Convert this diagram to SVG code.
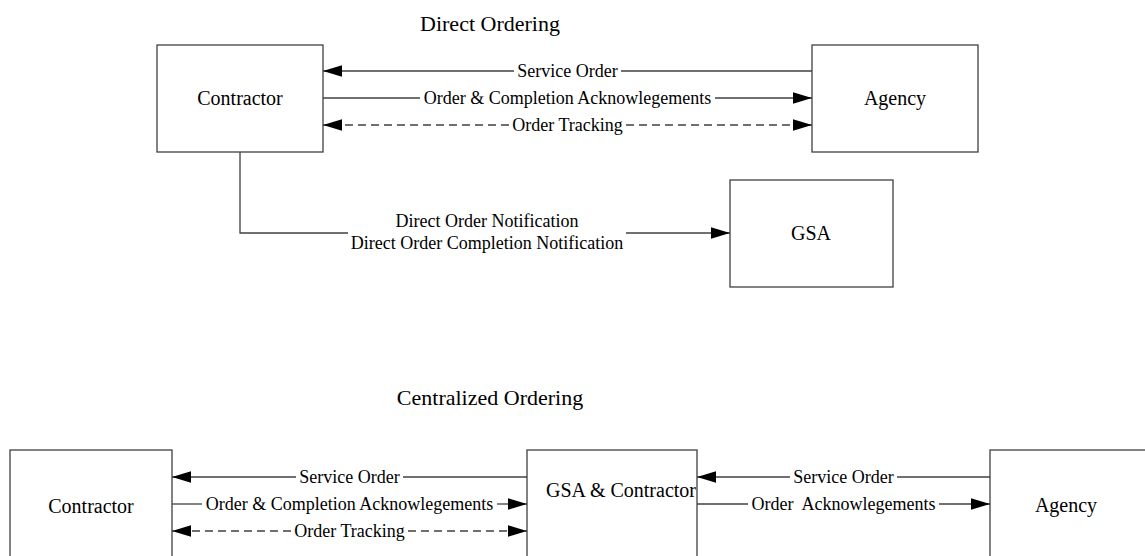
<svg xmlns="http://www.w3.org/2000/svg" width="1145" height="556" viewBox="0 0 1145 556">
<style>
.box{fill:#fff;stroke:#404040;stroke-width:1.3}
.ln{fill:none;stroke:#404040;stroke-width:1.3}
.dash{stroke-dasharray:8 5}
.lbl{font-family:"Liberation Serif","Times New Roman",serif;font-size:18px;fill:#000;text-anchor:middle}
.nt{font-family:"Liberation Serif","Times New Roman",serif;font-size:20px;fill:#000;text-anchor:middle}
.ttl{font-family:"Liberation Serif","Times New Roman",serif;font-size:22px;fill:#000;text-anchor:middle}
</style>
<defs>
<marker id="ah" markerUnits="userSpaceOnUse" markerWidth="19" markerHeight="12" refX="18" refY="5.5" orient="auto-start-reverse" viewBox="0 0 18 11">
<path d="M0,0 L18,5.5 L0,11 z" fill="#000"/>
</marker>
</defs>
<rect width="1145" height="556" fill="#fff"/>
<text class="ttl" x="490" y="31">Direct Ordering</text>
<text class="ttl" x="490" y="405">Centralized Ordering</text>

<g id="top-contractor"><rect class="box" x="157" y="45" width="166" height="107"/><text class="nt" x="240" y="105">Contractor</text></g>
<g id="top-agency"><rect class="box" x="812" y="45" width="166" height="107"/><text class="nt" x="895" y="105">Agency</text></g>
<g id="top-gsa"><rect class="box" x="730" y="180" width="163" height="107"/><text class="nt" x="811" y="240">GSA</text></g>

<g id="bot-contractor"><rect class="box" x="10" y="450" width="162" height="130"/><text class="nt" x="91" y="513">Contractor</text></g>
<g id="bot-gsa-contractor"><rect class="box" x="527" y="450" width="170" height="130"/><text class="nt" x="546" y="497" style="text-anchor:start">GSA &amp; Contractor</text></g>
<g id="bot-agency"><rect class="box" x="990" y="450" width="170" height="130"/><text class="nt" x="1066" y="512">Agency</text></g>

<g id="connectors">
<line class="ln" x1="812" y1="71" x2="621" y2="71"/>
<line class="ln" x1="514" y1="71" x2="323" y2="71" marker-end="url(#ah)"/>
<text class="lbl" x="567.5" y="77">Service Order</text>
<line class="ln" x1="323" y1="98" x2="420" y2="98"/>
<line class="ln" x1="715" y1="98" x2="812" y2="98" marker-end="url(#ah)"/>
<text class="lbl" x="567.5" y="104">Order &amp; Completion Acknowlegements</text>
<line class="ln dash" x1="509" y1="125" x2="323" y2="125" marker-end="url(#ah)"/>
<line class="ln dash" x1="626" y1="125" x2="812" y2="125" marker-end="url(#ah)"/>
<text class="lbl" x="567.5" y="131">Order Tracking</text>
<polyline class="ln" points="240,152 240,233 348,233"/>
<line class="ln" x1="626" y1="233" x2="730" y2="233" marker-end="url(#ah)"/>
<text class="lbl" x="487" y="227">Direct Order Notification</text>
<text class="lbl" x="487" y="249">Direct Order Completion Notification</text>
<line class="ln" x1="527" y1="477" x2="403" y2="477"/>
<line class="ln" x1="296" y1="477" x2="172" y2="477" marker-end="url(#ah)"/>
<text class="lbl" x="349.5" y="483">Service Order</text>
<line class="ln" x1="172" y1="504" x2="202" y2="504"/>
<line class="ln" x1="497" y1="504" x2="527" y2="504" marker-end="url(#ah)"/>
<text class="lbl" x="349.5" y="510">Order &amp; Completion Acknowlegements</text>
<line class="ln dash" x1="291" y1="531" x2="172" y2="531" marker-end="url(#ah)"/>
<line class="ln dash" x1="408" y1="531" x2="527" y2="531" marker-end="url(#ah)"/>
<text class="lbl" x="349.5" y="537">Order Tracking</text>
<line class="ln" x1="990" y1="477" x2="897" y2="477"/>
<line class="ln" x1="790" y1="477" x2="697" y2="477" marker-end="url(#ah)"/>
<text class="lbl" x="843.5" y="483">Service Order</text>
<line class="ln" x1="697" y1="504" x2="748" y2="504"/>
<line class="ln" x1="939" y1="504" x2="990" y2="504" marker-end="url(#ah)"/>
<text class="lbl" x="843.5" y="510" xml:space="preserve">Order  Acknowlegements</text>
</g>
</svg>
